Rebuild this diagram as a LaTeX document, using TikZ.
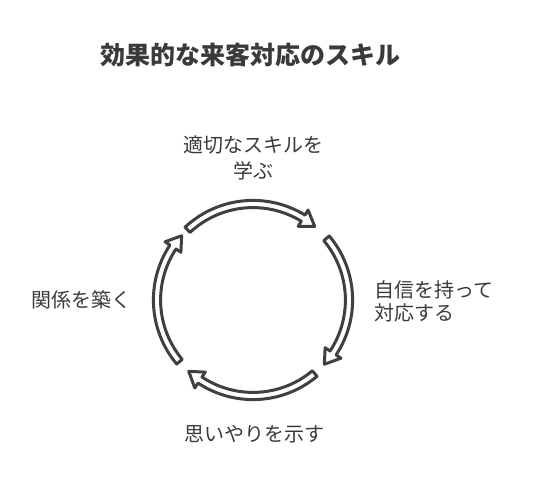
\documentclass[tikz,border=0pt]{standalone}
\usepackage{fontspec}
\setmainfont{Noto Sans CJK JP}
\definecolor{txt}{HTML}{3A3A3A}
\definecolor{arr}{HTML}{404040}
\newcommand\cyclearrow[2]{%
  \pgfmathsetmacro\Ro{96+3.6}%
  \pgfmathsetmacro\Ri{96-3.6}%
  \pgfmathsetmacro\Ho{96+9.5}%
  \pgfmathsetmacro\Hi{96-9.5}%
  \pgfmathsetmacro\Bd{#2+8.5}%
  \draw[arrowshape] (#1:\Ro pt) arc[start angle=#1, end angle=\Bd, radius=\Ro pt]
    -- (\Bd:\Ho pt) -- (#2:96pt) -- (\Bd:\Hi pt) -- (\Bd:\Ri pt)
    arc[start angle=\Bd, end angle=#1, radius=\Ri pt] -- cycle;}
\tikzset{
  arrowshape/.style={draw=arr, fill=white, line width=3pt, line join=round},
  lbl/.style={text=txt, inner sep=0pt, font=\fontsize{20}{26}\selectfont},
  ttl/.style={text=txt, inner sep=0pt, font=\fontsize{25}{30}\selectfont\bfseries},
}
\begin{document}
\begin{tikzpicture}[x=1pt,y=1pt]
\useasboundingbox (0,0) rectangle (540,-492);
\node[ttl] (title) at (250.5,-55) {効果的な来客対応のスキル};
\node[lbl, align=center] (learn) at (253,-158) {適切なスキルを\\学ぶ};
\node[lbl, align=left, anchor=west, font=\fontsize{20}{23.5}\selectfont] (confident) at (374,-301.5) {自信を持って\\対応する};
\node[lbl, anchor=center] (care) at (254,-434) {思いやりを示す};
\node[lbl, anchor=west] (relation) at (31,-300) {関係を築く};
\begin{scope}[shift={(253,-300)}]
  \cyclearrow{133}{50}
  \cyclearrow{40}{-42}
  \cyclearrow{-50}{-132}
  \cyclearrow{220}{138}
\end{scope}
\end{tikzpicture}
\end{document}
